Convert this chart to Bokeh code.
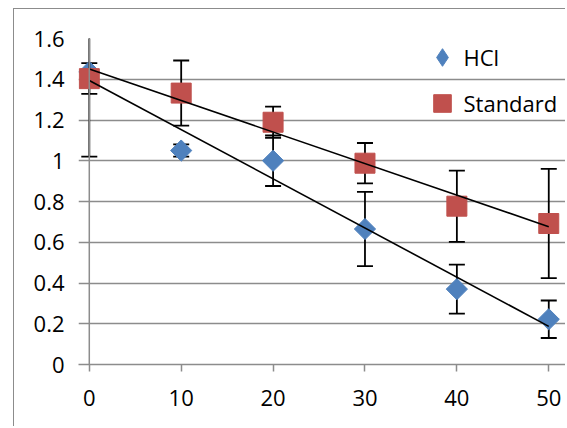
import numpy as np
from bokeh.plotting import figure
from bokeh.models import (ColumnDataSource, Range1d, FixedTicker, Legend, LegendItem, Span)
from bokeh.embed import file_html
from bokeh.resources import INLINE

# ---- data ----
x_vals = [0, 10, 20, 30, 40, 50]

hcl_y = [1.436, 1.05, 1.00, 0.665, 0.37, 0.222]
hcl_err_plus = [0.043, 0.03, 0.124, 0.182, 0.12, 0.092]
hcl_err_minus = [0.108, 0.03, 0.124, 0.182, 0.12, 0.092]

std_y = [1.403, 1.332, 1.189, 0.988, 0.777, 0.692]
std_err_plus = [0.383, 0.16, 0.077, 0.099, 0.175, 0.268]
std_err_minus = [0.383, 0.16, 0.077, 0.099, 0.175, 0.268]

series_names = ["HCl", "Standard"]
x_ticks = [0, 10, 20, 30, 40, 50]
x_tick_labels = ["0", "10", "20", "30", "40", "50"]
y_ticks = [0, 0.2, 0.4, 0.6, 0.8, 1, 1.2, 1.4, 1.6]
y_tick_labels = ["0", "0.2", "0.4", "0.6", "0.8", "1", "1.2", "1.4", "1.6"]

# ---- styling ----
BLUE = "#4F81BD"
RED = "#C0504D"
GRID = "#8c8c8c"
FONT = "Open Sans"
TICK_FS = "22px"
LEG_FS = "22px"

p = figure(width=552, height=418, output_backend="svg", toolbar_location=None,
           x_range=Range1d(-1.175, 51.93), y_range=Range1d(0, 1.6),
           min_border_left=64, min_border_right=0, min_border_top=29, min_border_bottom=63)
# chart-area border (only its left and top edges are inside the cropped reference)
p.styles = {"margin-left": "13px", "margin-top": "8px",
            "border-left": "1.5px solid #8c8c8c", "border-top": "1.5px solid #8c8c8c"}
p.background_fill_color = "white"
p.border_fill_color = "white"
p.outline_line_color = None
p.xgrid.visible = False
p.ygrid.grid_line_color = GRID
p.ygrid.grid_line_width = 1.5
p.ygrid.ticker = FixedTicker(ticks=y_ticks)

# x axis
xa = p.xaxis[0]
xa.ticker = FixedTicker(ticks=x_ticks)
xa.major_label_overrides = {t: l for t, l in zip(x_ticks, x_tick_labels)}
xa.axis_line_color = GRID
xa.axis_line_width = 1.5
xa.major_tick_line_color = GRID
xa.major_tick_line_width = 1.5
xa.major_tick_in = 0
xa.major_tick_out = 7
xa.minor_tick_line_color = None
xa.major_label_text_font = FONT
xa.major_label_text_font_size = TICK_FS
xa.major_label_text_color = "black"
xa.major_label_standoff = 18

# y axis labels (ticks coincide with the gridlines)
ya = p.yaxis[0]
ya.ticker = FixedTicker(ticks=y_ticks)
ya.major_label_overrides = {t: l for t, l in zip(y_ticks, y_tick_labels)}
ya.axis_line_color = None
ya.major_tick_line_color = None
ya.minor_tick_line_color = None
ya.major_tick_in = 0
ya.major_tick_out = 0
ya.major_label_text_font = FONT
ya.major_label_text_font_size = TICK_FS
ya.major_label_text_color = "black"
ya.major_label_standoff = 14

# vertical axis line at x = 0
p.add_layout(Span(location=0, dimension="height", line_color=GRID, line_width=1.5))


def series_source(ys, ep, em):
    return ColumnDataSource(dict(
        x=x_vals, y=ys,
        lo=[v - m for v, m in zip(ys, em)],
        hi=[v + e for v, e in zip(ys, ep)],
    ))


hcl_src = series_source(hcl_y, hcl_err_plus, hcl_err_minus)
std_src = series_source(std_y, std_err_plus, std_err_minus)


def error_bars(src):
    p.segment(x0="x", y0="lo", x1="x", y1="hi", source=src,
              line_color="black", line_width=1.8)
    for col in ("lo", "hi"):
        p.scatter(x="x", y=col, source=src, marker="dash", size=16,
                  line_color="black", line_width=1.8)


error_bars(hcl_src)
hcl_r = p.scatter(x="x", y="y", source=hcl_src, marker="square", angle=np.pi / 4,
                  size=15, fill_color=BLUE, line_color=BLUE)
error_bars(std_src)
std_r = p.scatter(x="x", y="y", source=std_src, marker="square", size=20,
                  fill_color=RED, line_color=RED)

# linear trendlines (least squares, as Excel)
for ys in (hcl_y, std_y):
    k, b = np.polyfit(x_vals, ys, 1)
    xs = [min(x_vals), max(x_vals)]
    p.line(x=xs, y=[k * v + b for v in xs], line_color="black", line_width=1.6)

# legend swatch renderer for the diamond (legend draws markers unrotated)
hcl_leg = p.scatter(x="x", y="y", source=hcl_src, marker="diamond", size=15,
                    fill_color=BLUE, line_color=BLUE, visible=False)

legend = Legend(items=[LegendItem(label=series_names[0], renderers=[hcl_leg]),
                       LegendItem(label=series_names[1], renderers=[std_r])],
                location=(341.5, 239), orientation="vertical",
                padding=0, margin=0, spacing=2, glyph_width=44, glyph_height=44,
                label_standoff=0, label_height=44,
                label_text_font=FONT, label_text_font_size=LEG_FS, label_text_color="black",
                border_line_color=None, background_fill_alpha=0)
p.add_layout(legend)

open("out.html", "w").write(file_html(p, INLINE))
